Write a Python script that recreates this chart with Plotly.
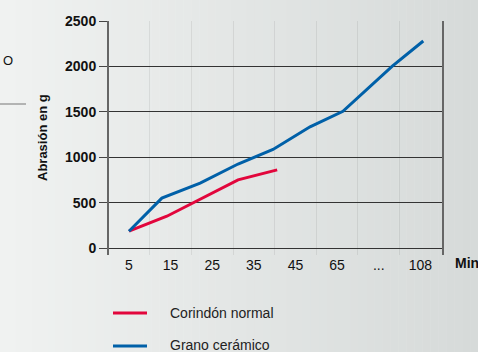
import plotly.graph_objects as go

# tick labels on the time axis (minutes), one per slot
tick_labels = ["5", "15", "25", "35", "45", "65", "...", "108"]
tick_pos = list(range(len(tick_labels)))

# series, x given in tick-slot units
ceramic_x = [0, 0.79, 1.71, 2.62, 3.46, 4.35, 5.14, 6.32, 7.07]
ceramic_y = [185, 550, 715, 925, 1085, 1335, 1505, 2000, 2280]
corundum_x = [0, 0.91, 2.62, 3.56]
corundum_y = [185, 350, 750, 860]

RED = "#e2063c"
BLUE = "#0060a8"
FONT = "Liberation Sans, Arial, sans-serif"

fig = go.Figure()
fig.add_trace(go.Scatter(x=corundum_x, y=corundum_y, mode="lines", name="Corindón normal",
                         line=dict(color=RED, width=3), showlegend=False))
fig.add_trace(go.Scatter(x=ceramic_x, y=ceramic_y, mode="lines", name="Grano cerámico",
                         line=dict(color=BLUE, width=3), showlegend=False))

# pixel -> paper helpers (plot area 109..442 x 21..255)
def px(p):
    return (p - 109) / 333.0

def py(p):
    return (255 - p) / 234.0

# soft left-to-right gradient behind everything
shapes = []
n = 60
for i in range(n):
    t = i / (n - 1)
    r = round(240 - 26 * t)
    g = round(242 - 24 * t)
    b = round(241 - 24 * t)
    shapes.append(dict(type="rect", xref="paper", yref="paper", layer="below",
                       x0=px(478 * i / n), x1=px(478 * (i + 1) / n + 0.5),
                       y0=py(352), y1=py(0), line=dict(width=0),
                       fillcolor=f"rgb({r},{g},{b})"))

# legend drawn by hand
shapes.append(dict(type="line", xref="paper", yref="paper", x0=px(113), x1=px(147),
                   y0=py(313), y1=py(313), line=dict(color=RED, width=3)))
shapes.append(dict(type="line", xref="paper", yref="paper", x0=px(113), x1=px(147),
                   y0=py(346), y1=py(346), line=dict(color=BLUE, width=3)))
# cut-off piece of the neighbouring graphic
shapes.append(dict(type="line", xref="paper", yref="paper", x0=px(0), x1=px(26),
                   y0=py(104), y1=py(104), line=dict(color="#777", width=1)))

annotations = [
    dict(text="Corindón normal", xref="paper", yref="paper", x=px(168), y=py(313),
         xanchor="left", yanchor="middle", showarrow=False, font=dict(size=14, color="#222")),
    dict(text="Grano cerámico", xref="paper", yref="paper", x=px(168), y=py(345),
         xanchor="left", yanchor="middle", showarrow=False, font=dict(size=14, color="#222")),
    dict(text="Abrasión en g", xref="paper", yref="paper", x=px(42), y=py(138),
         xanchor="center", yanchor="middle", textangle=-90, showarrow=False,
         font=dict(size=13, color="#111", weight="bold")),
    dict(text="Minutos", xref="paper", yref="paper", x=px(453), y=py(263),
         xanchor="left", yanchor="middle", showarrow=False,
         font=dict(size=14, color="#111", weight="bold")),
    dict(text="O", xref="paper", yref="paper", x=px(8), y=py(61),
         xanchor="center", yanchor="middle", showarrow=False,
         font=dict(size=13, color="#111")),
]

fig.update_layout(
    width=478, height=352, autosize=False,
    margin=dict(l=109, r=36, t=21, b=97),
    paper_bgcolor="rgba(0,0,0,0)", plot_bgcolor="rgba(0,0,0,0)",
    font=dict(family=FONT, size=14, color="#111"),
    shapes=shapes, annotations=annotations,
    xaxis=dict(range=[-0.48, 7.52], tickvals=tick_pos, ticktext=tick_labels,
               showgrid=False, zeroline=False, showline=False, ticks="",
               tickfont=dict(size=14, color="#111"),
               minor=dict(tickvals=[i + 0.5 for i in range(7)], showgrid=True,
                          gridcolor="rgba(0,0,0,0.07)", gridwidth=1)),
    yaxis=dict(range=[-77, 2500], tickvals=[0, 500, 1000, 1500, 2000, 2500],
               showgrid=True, gridcolor="#333", gridwidth=1, zeroline=False,
               showline=True, mirror=True, linecolor="#666", linewidth=2,
               ticks="outside", ticklen=8, tickcolor="#444", tickwidth=1,
               tickfont=dict(size=14, color="#111", weight="bold")),
)

# drop the default body margin so the figure fills the window exactly
fig.write_html("out.html", config={"displayModeBar": False},
               post_script="document.body.style.margin='0';"
                           "document.body.style.overflow='hidden';")
